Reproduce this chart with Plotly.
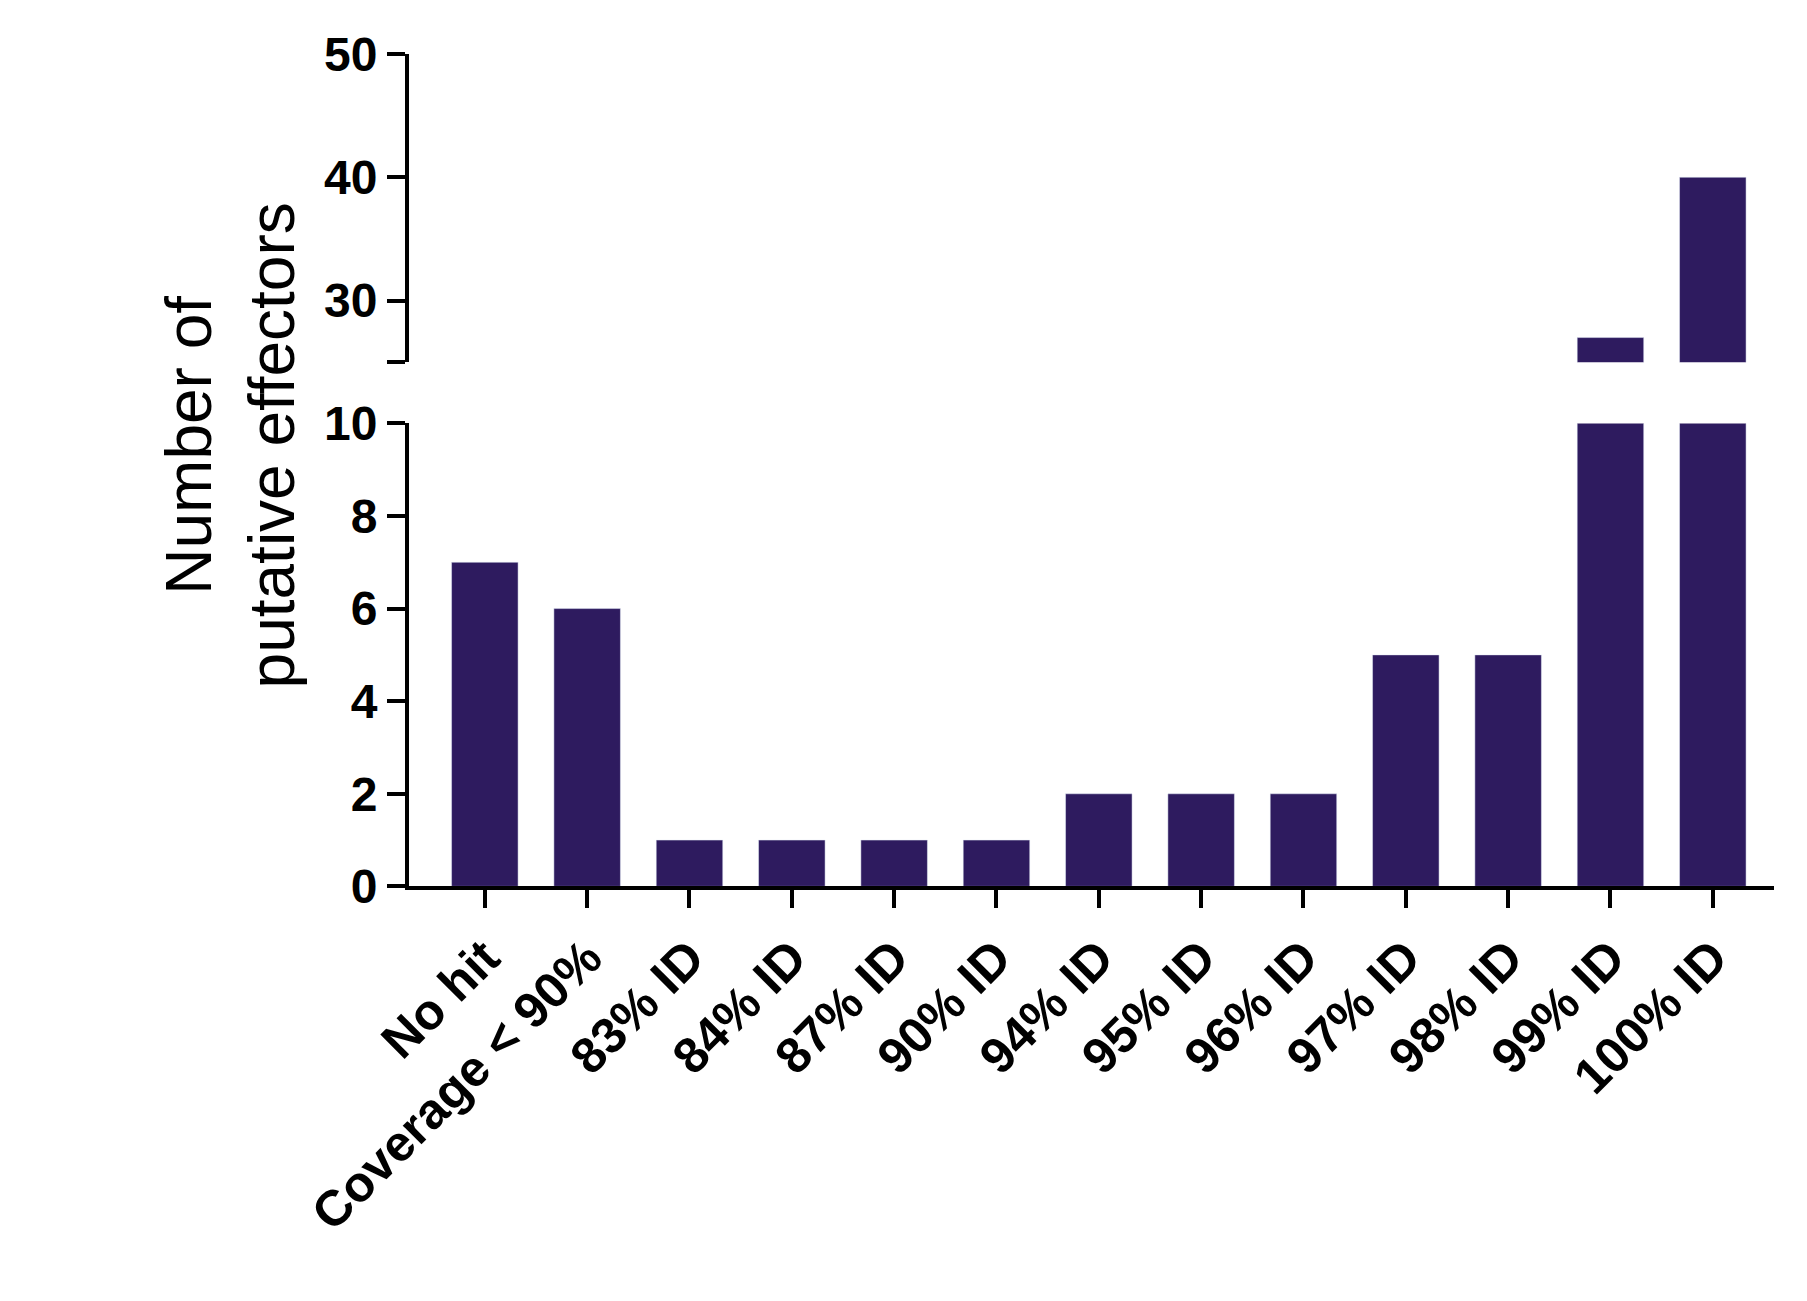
import plotly.graph_objects as go

categories = ["No hit", "Coverage < 90%", "83% ID", "84% ID", "87% ID", "90% ID",
              "94% ID", "95% ID", "96% ID", "97% ID", "98% ID", "99% ID", "100% ID"]
values = [7, 6, 1, 1, 1, 1, 2, 2, 2, 5, 5, 27, 40]

color = "#2e1b5f"
fig = go.Figure()
for ya in ["y", "y2"]:
    fig.add_trace(go.Bar(x=categories, y=values, marker_color=color, width=0.65,
                         xaxis="x" if ya == "y" else "x2", yaxis=ya, showlegend=False))

tickfont = dict(family="Liberation Sans, Arial", size=48, color="black")
xd = [0.173, 0.976]
fig.update_layout(
    width=1807, height=1301, plot_bgcolor="white", paper_bgcolor="white",
    margin=dict(l=0, r=0, t=0, b=0), bargap=0.35,
    xaxis=dict(domain=xd, anchor="y", range=[-0.74, 12.6], showline=True,
               linecolor="black", linewidth=4, ticks="outside", ticklen=18, tickwidth=4,
               tickcolor="black", tickangle=-45,
               tickfont=dict(family="Liberation Sans, Arial", size=50, color="black"),
               tickmode="array", tickvals=categories,
               ticktext=[f"<b>{c}</b>" for c in categories]),
    yaxis=dict(domain=[0.317, 0.688], range=[0, 10], showline=True, linecolor="black",
               linewidth=4, ticks="outside", ticklen=18, tickwidth=4, tickcolor="black",
               tickvals=[0, 2, 4, 6, 8, 10], ticktext=[f"<b>{v}</b>" for v in [0, 2, 4, 6, 8, 10]],
               tickfont=tickfont, showgrid=False, zeroline=False),
    xaxis2=dict(domain=xd, anchor="y2", range=[-0.74, 12.6], visible=False),
    yaxis2=dict(domain=[0.737, 0.984], range=[25, 50], anchor="x2", showline=True,
                linecolor="black", linewidth=4, ticks="outside", ticklen=18, tickwidth=4,
                tickcolor="black", tickvals=[25, 30, 40, 50],
                ticktext=["", "<b>30</b>", "<b>40</b>", "<b>50</b>"],
                tickfont=tickfont, showgrid=False, zeroline=False),
    annotations=[dict(text="Number of<br>putative effectors", x=0.068, y=0.67,
                      xanchor="center", yanchor="middle",
                      xref="paper", yref="paper", textangle=-90, showarrow=False,
                      font=dict(family="Liberation Sans, Arial", size=64, color="black"))],
)
fig.write_html("out.html")
